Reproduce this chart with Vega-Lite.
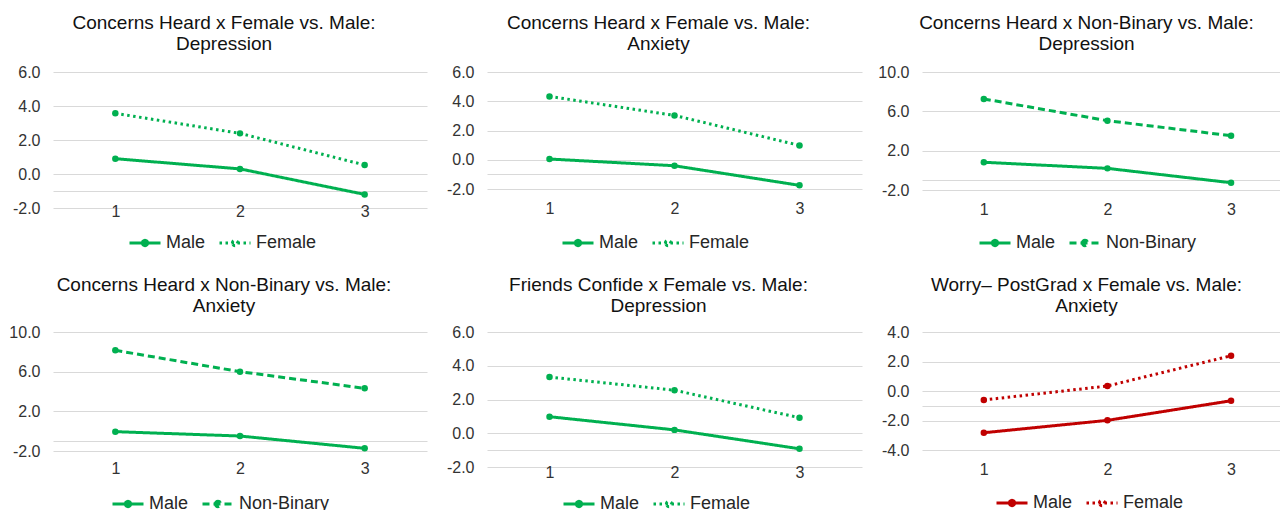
{
  "$schema": "https://vega.github.io/schema/vega-lite/v6.json",
  "padding": {"left": 8, "top": 14, "right": 0, "bottom": 0},
  "autosize": {"type": "pad"},
  "background": "white",
  "data": {"values": [
    {"p": 1, "s": "Male", "x": 1, "v": 0.9}, {"p": 1, "s": "Male", "x": 2, "v": 0.3}, {"p": 1, "s": "Male", "x": 3, "v": -1.2},
    {"p": 1, "s": "Female", "x": 1, "v": 3.57}, {"p": 1, "s": "Female", "x": 2, "v": 2.39}, {"p": 1, "s": "Female", "x": 3, "v": 0.53},
    {"p": 2, "s": "Male", "x": 1, "v": 0.05}, {"p": 2, "s": "Male", "x": 2, "v": -0.41}, {"p": 2, "s": "Male", "x": 3, "v": -1.75},
    {"p": 2, "s": "Female", "x": 1, "v": 4.33}, {"p": 2, "s": "Female", "x": 2, "v": 3.03}, {"p": 2, "s": "Female", "x": 3, "v": 0.98},
    {"p": 3, "s": "Male", "x": 1, "v": 0.82}, {"p": 3, "s": "Male", "x": 2, "v": 0.2}, {"p": 3, "s": "Male", "x": 3, "v": -1.26},
    {"p": 3, "s": "Non-Binary", "x": 1, "v": 7.26}, {"p": 3, "s": "Non-Binary", "x": 2, "v": 5.05}, {"p": 3, "s": "Non-Binary", "x": 3, "v": 3.52},
    {"p": 4, "s": "Male", "x": 1, "v": -0.05}, {"p": 4, "s": "Male", "x": 2, "v": -0.49}, {"p": 4, "s": "Male", "x": 3, "v": -1.73},
    {"p": 4, "s": "Non-Binary", "x": 1, "v": 8.15}, {"p": 4, "s": "Non-Binary", "x": 2, "v": 6.0}, {"p": 4, "s": "Non-Binary", "x": 3, "v": 4.32},
    {"p": 5, "s": "Male", "x": 1, "v": 0.98}, {"p": 5, "s": "Male", "x": 2, "v": 0.2}, {"p": 5, "s": "Male", "x": 3, "v": -0.92},
    {"p": 5, "s": "Female", "x": 1, "v": 3.33}, {"p": 5, "s": "Female", "x": 2, "v": 2.55}, {"p": 5, "s": "Female", "x": 3, "v": 0.92},
    {"p": 6, "s": "Male", "x": 1, "v": -2.83}, {"p": 6, "s": "Male", "x": 2, "v": -1.99}, {"p": 6, "s": "Male", "x": 3, "v": -0.66},
    {"p": 6, "s": "Female", "x": 1, "v": -0.61}, {"p": 6, "s": "Female", "x": 2, "v": 0.34}, {"p": 6, "s": "Female", "x": 3, "v": 2.39}
  ]},
  "columns": 3,
  "bounds": "flush",
  "align": "each",
  "spacing": {"row": 124, "column": 60},
  "resolve": {"scale": {"strokeDash": "independent"}, "legend": {"strokeDash": "independent"}},
  "concat": [
    {
      "title": {"text": ["Concerns Heard x Female vs. Male:", "Depression"]},
      "width": 374, "height": 136,
      "transform": [{"filter": "datum.p == 1"}],
      "mark": {"type": "line", "color": "#00B050", "strokeWidth": 3, "point": {"filled": true, "size": 42, "color": "#00B050"}},
      "encoding": {
        "x": {"field": "x", "type": "quantitative", "scale": {"domain": [0.5, 3.5], "nice": false, "zero": false}, "axis": {"values": [1, 2, 3], "format": "d", "grid": false, "labelPadding": -4.5}},
        "y": {"field": "v", "type": "quantitative", "scale": {"domain": [-2, 6], "nice": false, "zero": false}, "axis": {"values": [-2, -1, 0, 2, 4, 6], "labelExpr": "datum.value == -1 ? '' : replace(format(datum.value, '.1f'), '\u2212', '-')"}},
        "strokeDash": {"field": "s", "type": "nominal", "sort": null, "scale": {"domain": ["Male", "Female"], "range": [[1, 0], [2.5, 3.5]]}, "legend": {"legendX": 75, "legendY": 154, "encode": {"symbols": {"update": {"stroke": {"value": "#00B050"}, "fill": {"value": "#00B050"}, "strokeWidth": {"value": 3}}}}}}
      }
    },
    {
      "title": {"text": ["Concerns Heard x Female vs. Male:", "Anxiety"]},
      "width": 375, "height": 117,
      "transform": [{"filter": "datum.p == 2"}],
      "mark": {"type": "line", "color": "#00B050", "strokeWidth": 3, "point": {"filled": true, "size": 42, "color": "#00B050"}},
      "encoding": {
        "x": {"field": "x", "type": "quantitative", "scale": {"domain": [0.5, 3.5], "nice": false, "zero": false}, "axis": {"values": [1, 2, 3], "format": "d", "grid": false, "labelPadding": 11.5}},
        "y": {"field": "v", "type": "quantitative", "scale": {"domain": [-2, 6], "nice": false, "zero": false}, "axis": {"values": [-2, -1, 0, 2, 4, 6], "labelExpr": "datum.value == -1 ? '' : replace(format(datum.value, '.1f'), '\u2212', '-')"}},
        "strokeDash": {"field": "s", "type": "nominal", "sort": null, "scale": {"domain": ["Male", "Female"], "range": [[1, 0], [2.5, 3.5]]}, "legend": {"legendX": 74, "legendY": 154, "encode": {"symbols": {"update": {"stroke": {"value": "#00B050"}, "fill": {"value": "#00B050"}, "strokeWidth": {"value": 3}}}}}}
      }
    },
    {
      "title": {"text": ["Concerns Heard x Non-Binary vs. Male:", "Depression"]},
      "width": 361, "height": 118,
      "transform": [{"filter": "datum.p == 3"}],
      "mark": {"type": "line", "color": "#00B050", "strokeWidth": 3, "point": {"filled": true, "size": 42, "color": "#00B050"}},
      "encoding": {
        "x": {"field": "x", "type": "quantitative", "scale": {"domain": [0.5, 3.42], "nice": false, "zero": false}, "axis": {"values": [1, 2, 3], "format": "d", "grid": false, "labelPadding": 11}},
        "y": {"field": "v", "type": "quantitative", "scale": {"domain": [-2, 10], "nice": false, "zero": false}, "axis": {"values": [-2, -1, 2, 6, 10], "labelExpr": "datum.value == -1 ? '' : replace(format(datum.value, '.1f'), '\u2212', '-')"}},
        "strokeDash": {"field": "s", "type": "nominal", "sort": null, "scale": {"domain": ["Male", "Non-Binary"], "range": [[1, 0], [7, 4]]}, "legend": {"legendX": 56, "legendY": 154, "encode": {"symbols": {"update": {"stroke": {"value": "#00B050"}, "fill": {"value": "#00B050"}, "strokeWidth": {"value": 3}}}}}}
      }
    },
    {
      "title": {"text": ["Concerns Heard x Non-Binary vs. Male:", "Anxiety"], "offset": 8},
      "width": 374, "height": 119,
      "transform": [{"filter": "datum.p == 4"}],
      "mark": {"type": "line", "color": "#00B050", "strokeWidth": 3, "point": {"filled": true, "size": 42, "color": "#00B050"}},
      "encoding": {
        "x": {"field": "x", "type": "quantitative", "scale": {"domain": [0.5, 3.5], "nice": false, "zero": false}, "axis": {"values": [1, 2, 3], "format": "d", "grid": false, "labelPadding": 9}},
        "y": {"field": "v", "type": "quantitative", "scale": {"domain": [-2, 10], "nice": false, "zero": false}, "axis": {"values": [-2, -1, 2, 6, 10], "labelExpr": "datum.value == -1 ? '' : replace(format(datum.value, '.1f'), '\u2212', '-')"}},
        "strokeDash": {"field": "s", "type": "nominal", "sort": null, "scale": {"domain": ["Male", "Non-Binary"], "range": [[1, 0], [7, 4]]}, "legend": {"legendX": 58, "legendY": 155, "encode": {"symbols": {"update": {"stroke": {"value": "#00B050"}, "fill": {"value": "#00B050"}, "strokeWidth": {"value": 3}}}}}}
      }
    },
    {
      "title": {"text": ["Friends Confide x Female vs. Male:", "Depression"], "offset": 8},
      "width": 375, "height": 135,
      "transform": [{"filter": "datum.p == 5"}],
      "mark": {"type": "line", "color": "#00B050", "strokeWidth": 3, "point": {"filled": true, "size": 42, "color": "#00B050"}},
      "encoding": {
        "x": {"field": "x", "type": "quantitative", "scale": {"domain": [0.5, 3.5], "nice": false, "zero": false}, "axis": {"values": [1, 2, 3], "format": "d", "grid": false, "labelPadding": -3}},
        "y": {"field": "v", "type": "quantitative", "scale": {"domain": [-2, 6], "nice": false, "zero": false}, "axis": {"values": [-2, -1, 0, 2, 4, 6], "labelExpr": "datum.value == -1 ? '' : replace(format(datum.value, '.1f'), '\u2212', '-')"}},
        "strokeDash": {"field": "s", "type": "nominal", "sort": null, "scale": {"domain": ["Male", "Female"], "range": [[1, 0], [2.5, 3.5]]}, "legend": {"legendX": 75, "legendY": 155, "encode": {"symbols": {"update": {"stroke": {"value": "#00B050"}, "fill": {"value": "#00B050"}, "strokeWidth": {"value": 3}}}}}}
      }
    },
    {
      "title": {"text": ["Worry\u2013 PostGrad x Female vs. Male:", "Anxiety"], "offset": 8},
      "width": 361, "height": 118,
      "transform": [{"filter": "datum.p == 6"}],
      "mark": {"type": "line", "color": "#C00000", "strokeWidth": 3, "point": {"filled": true, "size": 42, "color": "#C00000"}},
      "encoding": {
        "x": {"field": "x", "type": "quantitative", "scale": {"domain": [0.5, 3.42], "nice": false, "zero": false}, "axis": {"values": [1, 2, 3], "format": "d", "grid": false, "labelPadding": 11}},
        "y": {"field": "v", "type": "quantitative", "scale": {"domain": [-4, 4], "nice": false, "zero": false}, "axis": {"values": [-4, -2, -1, 0, 2, 4], "labelExpr": "datum.value == -1 ? '' : replace(format(datum.value, '.1f'), '\u2212', '-')"}},
        "strokeDash": {"field": "s", "type": "nominal", "sort": null, "scale": {"domain": ["Male", "Female"], "range": [[1, 0], [2.5, 3.5]]}, "legend": {"legendX": 73, "legendY": 154, "encode": {"symbols": {"update": {"stroke": {"value": "#C00000"}, "fill": {"value": "#C00000"}, "strokeWidth": {"value": 3}}}}}}
      }
    }
  ],
  "config": {
    "font": "Liberation Sans",
    "view": {"stroke": null},
    "axis": {"labelFontSize": 16, "labelColor": "#333333", "domain": false, "ticks": false, "title": null, "gridColor": "#D9D9D9", "gridWidth": 1, "labelPadding": 13},
    "title": {"fontSize": 19, "fontWeight": "normal", "color": "#111111", "lineHeight": 21, "anchor": "middle", "frame": "group", "dx": -16, "offset": 10},
    "legend": {
      "orient": "none", "direction": "horizontal", "title": null,
      "labelFontSize": 18, "labelColor": "#262626", "labelOffset": 4, "columnPadding": 7,
      "symbolType": "M-1,0H1M-0.17,0A0.17,0.17,0,1,1,0.17,0A0.17,0.17,0,1,1,-0.17,0Z",
      "symbolSize": 961, "symbolStrokeWidth": 3
    }
  }
}
